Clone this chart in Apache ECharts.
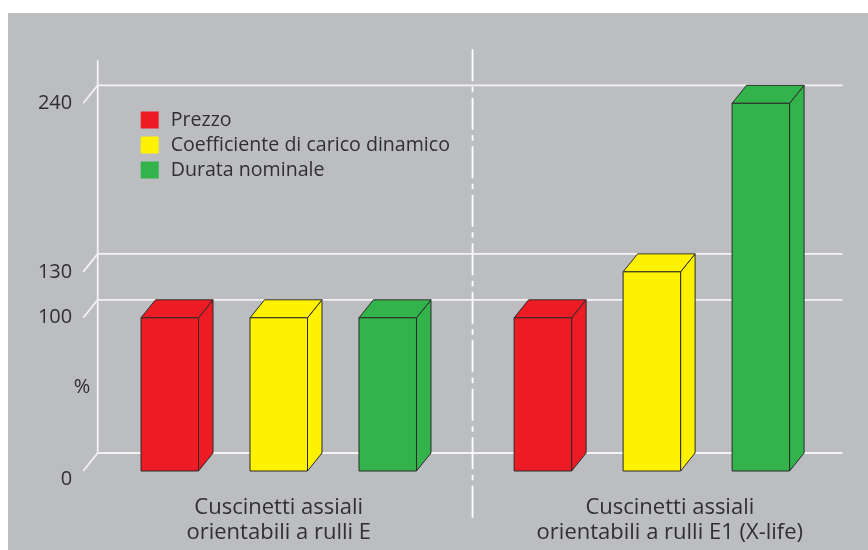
<!DOCTYPE html>
<html>
<head>
<meta charset="utf-8">
<script src="https://cdn.jsdelivr.net/npm/echarts@6/dist/echarts.min.js"></script>
<style>
html,body{margin:0;padding:0;background:#ffffff;}
#chart{width:868px;height:550px;}
</style>
</head>
<body>
<div id="chart"></div>
<script>
// ---- data ----
const categories = ['Cuscinetti assiali\norientabili a rulli E', 'Cuscinetti assiali\norientabili a rulli E1 (X-life)'];
const seriesNames = ['Prezzo', 'Coefficiente di carico dinamico', 'Durata nominale'];
const prezzo = [100, 100];
const coefficiente = [100, 130];
const durata = [100, 240];
const yTicks = [0, 100, 130, 240];
const unitLabel = '%';

// ---- styles ----
const colors = ['#ED1C24', '#FFF200', '#32B34B'];
const DX = 14.5, DY = -18;
const SPACING = 0.2921, BARW = 0.1541;
const EDGE = '#2b2b2b';
const WALL = '#f3f3f4';
const FONT = 'Open Sans';
const TEXT = '#303030';

const chart = echarts.init(document.getElementById('chart'));

function barSeries(name, values, idx) {
  return {
    name: name,
    type: 'custom',
    z: 3,
    itemStyle: { color: colors[idx] },
    data: values.map((v, i) => [i, v]),
    encode: { x: 0, y: 1 },
    renderItem: function (params, api) {
      const c = api.value(0), v = api.value(1);
      const base = api.coord([c, 0]);
      const top = api.coord([c, v]);
      const band = api.size([1, 0])[0];
      const cx = base[0] + (idx - 1) * band * SPACING;
      const w = band * BARW;
      const x0 = cx - w / 2, x1 = cx + w / 2, y0 = base[1], y1 = top[1];
      const st = { fill: colors[idx], stroke: EDGE, lineWidth: 1, lineJoin: 'round' };
      return {
        type: 'group',
        children: [
          { type: 'polygon', shape: { points: [[x1, y0], [x1, y1], [x1 + DX, y1 + DY], [x1 + DX, y0 + DY]] }, style: st },
          { type: 'polygon', shape: { points: [[x0, y1], [x1, y1], [x1 + DX, y1 + DY], [x0 + DX, y1 + DY]] }, style: st },
          { type: 'rect', shape: { x: x0, y: y1, width: w, height: y0 - y1 }, style: st }
        ]
      };
    }
  };
}

const wallSeries = {
  type: 'custom',
  z: 1,
  silent: true,
  data: yTicks.map(v => [0, v]),
  encode: { x: 0, y: 1 },
  renderItem: function (params, api) {
    const v = api.value(1);
    const cs = params.coordSys;
    const fx = cs.x - 9;
    const y = api.coord([0, v])[1];
    const rightEnd = cs.x + cs.width + 4;
    const ls = { stroke: WALL, lineWidth: 1.8 };
    const children = [
      { type: 'line', shape: { x1: fx + DX, y1: y + DY, x2: rightEnd, y2: y + DY }, style: ls },
      { type: 'line', shape: { x1: fx, y1: y, x2: fx + DX, y2: y + DY }, style: ls }
    ];
    if (params.dataIndex === 0) {
      const y0 = api.coord([0, 0])[1];
      const yMax = api.coord([0, yTicks[yTicks.length - 1]])[1];
      children.push({ type: 'line', shape: { x1: fx + DX, y1: y0 + DY, x2: fx + DX, y2: yMax + DY - 25 }, style: ls });
      const band = api.size([1, 0])[0];
      const dxDiv = api.coord([0, 0])[0] + band / 2 + DX / 2;
      children.push({
        type: 'line',
        shape: { x1: dxDiv, y1: yMax + DY - 36, x2: dxDiv, y2: y0 + 49 },
        style: { stroke: '#ffffff', lineWidth: 1.8, lineDash: [32, 5.5, 5.5, 5.5] }
      });
    }
    return { type: 'group', children: children };
  }
};

const option = {
  animation: false,
  backgroundColor: '#ffffff',
  graphic: [
    { type: 'rect', z: -10, shape: { x: 8, y: 13, width: 860, height: 537 }, style: { fill: '#bcbdc1' } },
    { type: 'text', x: 82, y: 387, style: { text: unitLabel, font: '20px "Open Sans"', fill: TEXT, align: 'center', verticalAlign: 'middle' } }
  ],
  grid: { left: 92.2, right: 29.6, top: 103.3, bottom: 79, containLabel: false, outerBoundsMode: 'none' },
  legend: {
    data: seriesNames,
    orient: 'vertical',
    left: 140.7,
    top: 110,
    padding: 0,
    itemWidth: 18,
    itemHeight: 17,
    itemGap: 5,
    icon: 'rect',
    selectedMode: false,
    itemStyle: { borderWidth: 0 },
    textStyle: { fontFamily: FONT, fontSize: 19.6, color: TEXT, padding: [0, 0, 0, 7] }
  },
  xAxis: {
    type: 'category',
    data: categories,
    axisLine: { show: false },
    axisTick: { show: false },
    splitLine: { show: false },
    axisLabel: {
      interval: 0,
      margin: 24.5,
      fontFamily: FONT,
      fontSize: 22,
      lineHeight: 25,
      color: TEXT,
      formatter: function (value, index) {
        if (index === 1) {
          return value.split('\n').map(s => '{s|}' + s).join('\n');
        }
        return value;
      },
      rich: { s: { width: 36, fontFamily: FONT, fontSize: 22, lineHeight: 25 } }
    }
  },
  yAxis: {
    type: 'value',
    min: 0,
    max: 240,
    interval: 10,
    axisLine: { show: false },
    axisTick: { show: false },
    splitLine: { show: false },
    axisLabel: {
      margin: 20,
      fontFamily: FONT,
      fontSize: 20,
      color: TEXT,
      formatter: function (v) {
        if (yTicks.indexOf(v) < 0) return '';
        if (v === 0) return '{z|' + v + '}';
        return String(v);
      },
      rich: { z: { fontFamily: FONT, fontSize: 20, color: TEXT, padding: [16, 0, 0, 0] } }
    }
  },
  series: [
    wallSeries,
    barSeries(seriesNames[0], prezzo, 0),
    barSeries(seriesNames[1], coefficiente, 1),
    barSeries(seriesNames[2], durata, 2)
  ]
};
chart.setOption(option);
</script>
</body>
</html>
